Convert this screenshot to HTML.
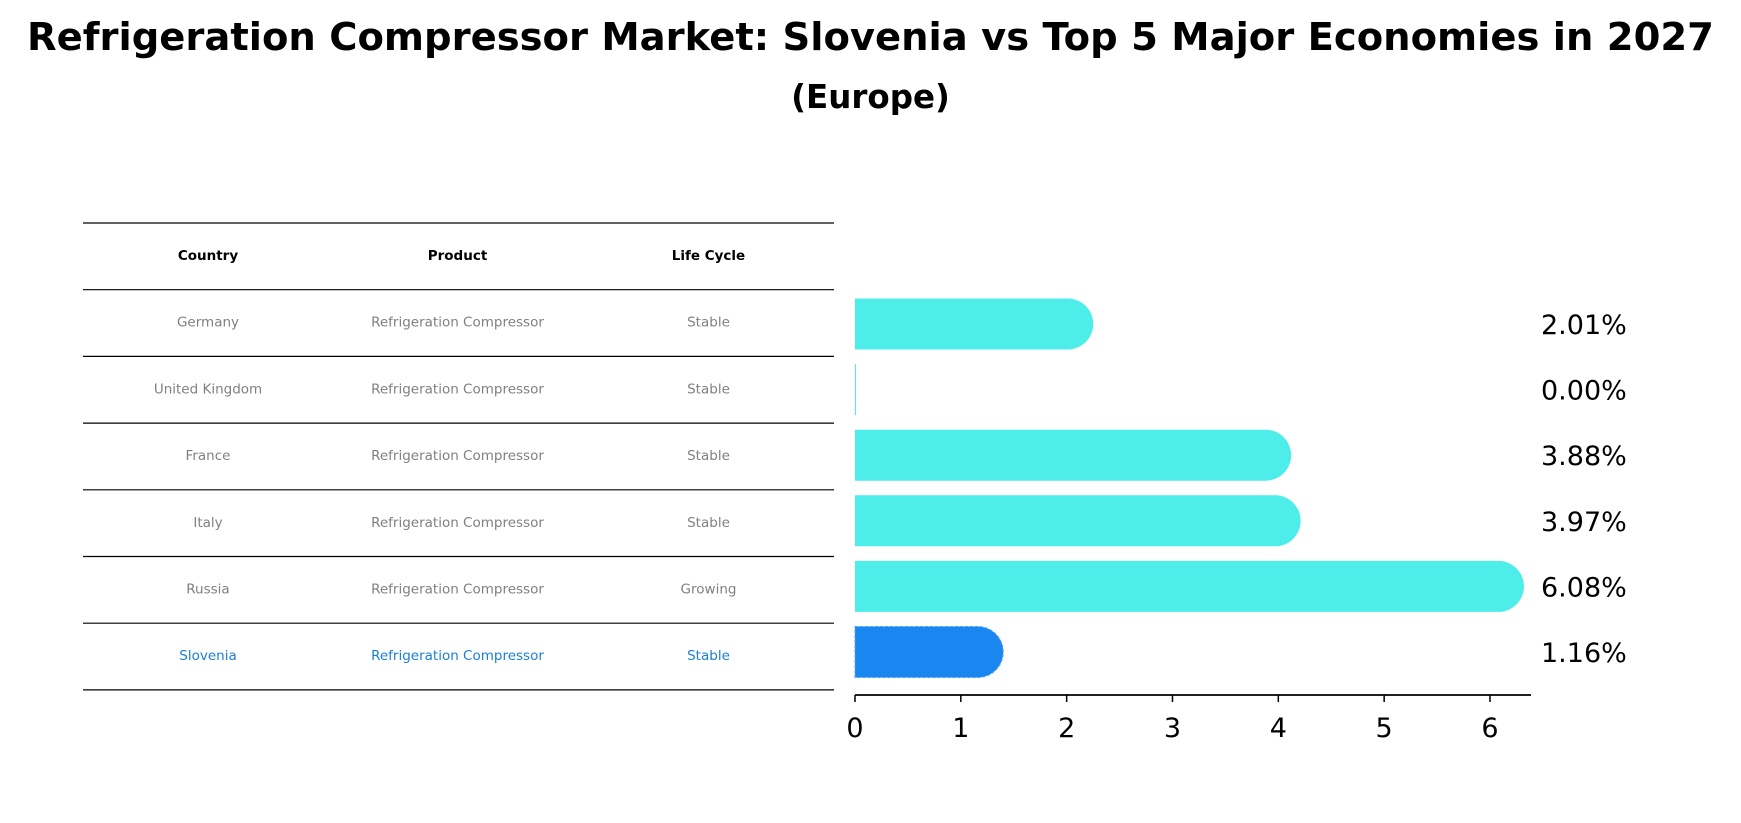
<!DOCTYPE html>
<html><head><meta charset="utf-8"><style>
body{margin:0;background:#fff;font-family:"Liberation Sans","DejaVu Sans",sans-serif;}
#wrap{position:relative;width:1741px;height:823px;overflow:hidden;}
.t{position:absolute;white-space:nowrap;}
</style></head><body>
<div id="wrap">
<div class="t" style="left:0;width:1741px;text-align:center;top:15px;font-family:'DejaVu Sans',sans-serif;font-weight:bold;font-size:38.5px;">Refrigeration Compressor Market: Slovenia vs Top 5 Major Economies in 2027</div>
<div class="t" style="left:0;width:1741px;text-align:center;top:78px;font-family:'DejaVu Sans',sans-serif;font-weight:bold;font-size:32.5px;">(Europe)</div>
<svg id="svg" width="1741" height="823" style="position:absolute;left:0;top:0"></svg>
</div>
<script>
const countries=["Germany","United Kingdom","France","Italy","Russia","Slovenia"];
const products=["Refrigeration Compressor","Refrigeration Compressor","Refrigeration Compressor","Refrigeration Compressor","Refrigeration Compressor","Refrigeration Compressor"];
const lifeCycles=["Stable","Stable","Stable","Stable","Growing","Stable"];
const values=[2.01,0.00,3.88,3.97,6.08,1.16];
const ticks=[0,1,2,3,4,5,6];
const NS="http://www.w3.org/2000/svg";
const svg=document.getElementById('svg');
function mk(tag,attrs,txt){const e=document.createElementNS(NS,tag);for(const k in attrs)e.setAttribute(k,attrs[k]);if(txt!==undefined)e.textContent=txt;svg.appendChild(e);return e;}
const x=v=>855+v*105.83;
const rowY=i=>324+i*65.6;
const lineY=i=>223+i*66.7;
const cols=[208,457.5,708.5];
const font="'DejaVu Sans',sans-serif";
for(let i=0;i<=7;i++){
 const l=mk('line',{x1:83,x2:834,y1:lineY(i),y2:lineY(i),stroke:'#000','stroke-width':1.2});
 
 
}
["Country","Product","Life Cycle"].forEach((h,j)=>{
 const t=mk('text',{x:cols[j],y:lineY(0)+37,'text-anchor':'middle','font-family':font,'font-size':13.5,'font-weight':'bold',fill:'#000'},h);
 
 
});
countries.forEach((c,i)=>{
 const hl=i===countries.length-1;
 const col=hl?'#1a7fd8':'#808080';
 const yy=lineY(i+1)+37;
 [c,products[i],lifeCycles[i]].forEach((v,j)=>{
  const t=mk('text',{x:cols[j],y:yy,'text-anchor':'middle','font-family':font,'font-size':13.5,fill:col},v);
  
  
 });
});
const h=51,r=h/2;
values.forEach((v,i)=>{
 const hl=i===values.length-1;
 const fill=hl?'#1a86f0':'#4deee9';
 const cy=rowY(i);
 let b;
 if(v>0){
  const x0=x(0),x1=x(v);
  const d=`M${x0},${cy-r} H${x1} A${r},${r} 0 0 1 ${x1},${cy+r} H${x0} Z`;
  b=mk('path',{d:d,fill:fill});
  if(hl){b.setAttribute('stroke','#4da6f5');b.setAttribute('stroke-dasharray','3,2');b.setAttribute('stroke-width','1');}
 } else {
  b=mk('rect',{x:x(0),y:cy-r,width:1,height:h,fill:fill});
 }
 
 
 const t=mk('text',{x:1541,y:cy+10,'font-family':font,'font-size':27,fill:'#000'},v.toFixed(2)+'%');
 
 
});
const ax=mk('line',{x1:x(0),x2:1531,y1:695,y2:695,stroke:'#000','stroke-width':1.8});


ticks.forEach(tk=>{
 const l=mk('line',{x1:x(tk),x2:x(tk),y1:695,y2:702,stroke:'#000','stroke-width':1.5});
 
 
 const t=mk('text',{x:x(tk),y:737,'text-anchor':'middle','font-family':font,'font-size':27,fill:'#000'},String(tk));
 
 
});
</script>
</body></html>
